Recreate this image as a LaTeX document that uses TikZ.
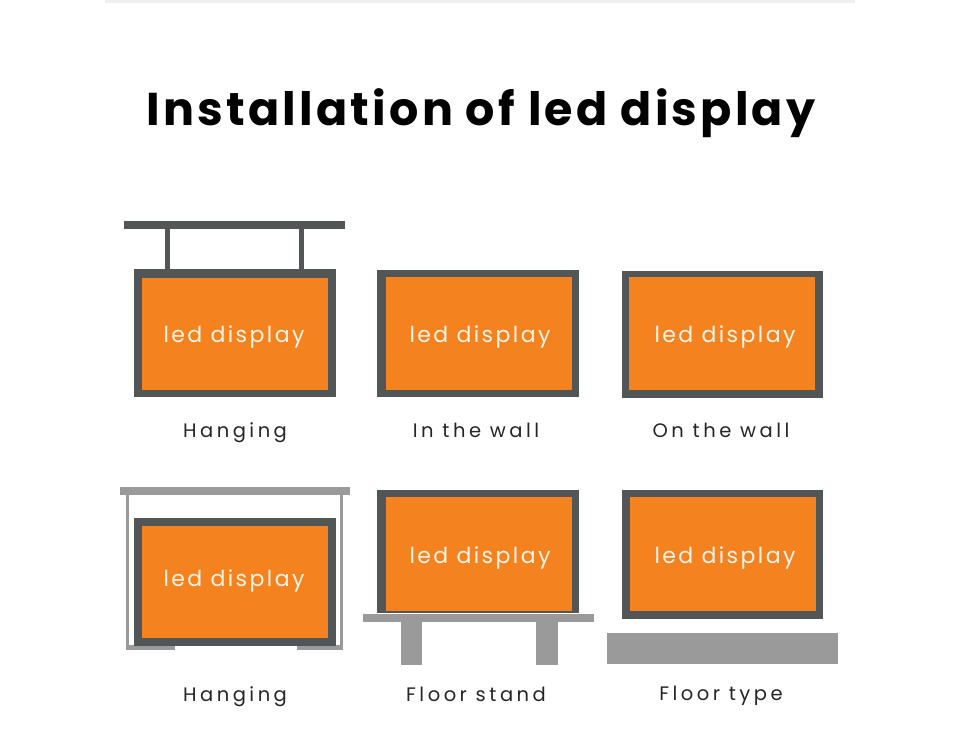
\documentclass[tikz,border=0pt]{standalone}
\usepackage{fontspec}
\setmainfont{Poppins}
\newfontfamily\titlefont[LetterSpace=7]{Poppins}
\newfontfamily\labfont[LetterSpace=18]{Poppins}
\newfontfamily\ledfont[LetterSpace=11]{Poppins}
\definecolor{ledorange}{HTML}{F4821F}
\definecolor{framegray}{HTML}{525657}
\definecolor{standgray}{HTML}{9A9A9A}
\definecolor{ledtext}{HTML}{FFF4E8}
\definecolor{shadowgray}{HTML}{EFEFEF}
\tikzset{
  frame/.style={fill=framegray},
  screen/.style={fill=ledorange},
  stand/.style={fill=standgray},
  bar/.style={fill=framegray},
  ledtxt/.style={anchor=base, inner sep=0pt, text=ledtext, font=\ledfont\fontsize{22}{26}\selectfont},
  labtxt/.style={anchor=base, inner sep=0pt, text=black!85, font=\labfont\fontsize{19.5}{23}\selectfont},
  titletxt/.style={anchor=base, inner sep=0pt, text=black, font=\titlefont\bfseries\fontsize{46}{54}\selectfont}
}
\begin{document}
\begin{tikzpicture}[x=1pt,y=-1pt]
\useasboundingbox (0,0) rectangle (960,742);
\fill[white] (0,0) rectangle (960,742);
\fill[shadowgray] (105,0) rectangle (855,3);
% title
\node[titletxt] (title) at (481,125) {Installation of led display};
% ---- top left: hanging
\fill[bar] (124,221) rectangle (345,229);
\fill[bar] (165,229) rectangle (170,270);
\fill[bar] (299,229) rectangle (304,270);
\fill[frame] (134,269) rectangle (336,397);
\fill[screen] (142,278) rectangle (328,390);
\node[ledtxt] (led1) at (234,342) {led display};
\node[labtxt] (lab1) at (235,437) {Hanging};
% ---- top middle: in the wall
\fill[frame] (377,270) rectangle (579,397);
\fill[screen] (386,277) rectangle (572,390);
\node[ledtxt] (led2) at (480,342) {led display};
\node[labtxt] (lab2) at (476,437) {In the wall};
% ---- top right: on the wall
\fill[frame] (622,271) rectangle (823,398);
\fill[screen] (629,277) rectangle (815,390);
\node[ledtxt] (led3) at (725,342) {led display};
\node[labtxt] (lab3) at (721,437) {On the wall};
% ---- bottom left: hanging frame
\fill[stand] (120,487) rectangle (350,495);
\fill[stand] (126,495) rectangle (129,650);
\fill[stand] (340,495) rectangle (343,650);
\fill[stand] (126,645) rectangle (175,650);
\fill[stand] (297,645) rectangle (343,650);
\fill[frame] (134,518) rectangle (336,646);
\fill[screen] (142,526) rectangle (328,638);
\node[ledtxt] (led4) at (234,586) {led display};
\node[labtxt] (lab4) at (235,701) {Hanging};
% ---- bottom middle: floor stand
\fill[frame] (377,490) rectangle (579,613);
\fill[screen] (386,497) rectangle (572,611);
\fill[stand] (363,614) rectangle (594,622);
\fill[stand] (401,622) rectangle (422,665);
\fill[stand] (536,622) rectangle (558,665);
\node[ledtxt] (led5) at (480,563) {led display};
\node[labtxt] (lab5) at (476,701) {Floor stand};
% ---- bottom right: floor type
\fill[frame] (622,490) rectangle (823,619);
\fill[screen] (630,497) rectangle (816,611);
\fill[stand] (607,633) rectangle (838,664);
\node[ledtxt] (led6) at (725,563) {led display};
\node[labtxt] (lab6) at (721,700) {Floor type};
\end{tikzpicture}
\end{document}
